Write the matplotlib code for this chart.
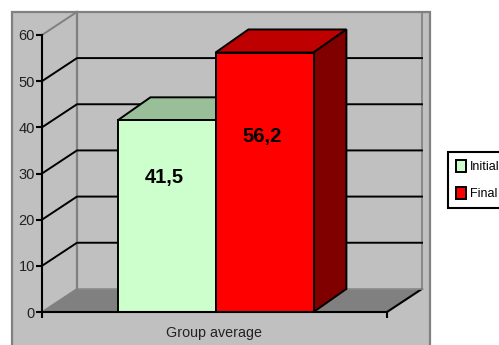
import matplotlib
matplotlib.use("Agg")
import matplotlib.pyplot as plt
from matplotlib.patches import Polygon, Rectangle

plt.rcParams['font.family'] = ['Liberation Sans', 'DejaVu Sans']

category = "Group average"
series_names = ["Initial", "Final"]
series_values = [41.5, 56.2]
value_labels = ["41,5", "56,2"]
y_ticks = [0, 10, 20, 30, 40, 50, 60]

front_colors = ["#CCFFCC", "#FF0000"]
top_colors = ["#99BF99", "#BF0000"]
side_colors = ["#669966", "#800000"]
GREY = "#C0C0C0"
DARK = "#808080"

# oblique offset of the back plane, in axis units
DX, DY = 0.1014, 5.0
BAR_W = 0.284
BAR_MID = 0.503
LABEL_FRAC = [0.70, 0.675]

fig = plt.figure(figsize=(4.99, 3.45), dpi=100, facecolor="white")

# outer chart area
fig.add_artist(Rectangle((11.5 / 499, -0.03), 418 / 499, 1.03 - 12 / 345,
                         transform=fig.transFigure, fc=GREY, ec=DARK, lw=1.6, zorder=-1))

ax = fig.add_axes([42 / 499, 33 / 345, 345 / 499, 277 / 345])
ax.set_xlim(0, 1)
ax.set_ylim(0, 60)
ax.patch.set_visible(False)
for name in ["top", "right"]:
    ax.spines[name].set_visible(False)
for name in ["left", "bottom"]:
    ax.spines[name].set_linewidth(1.5)
    ax.spines[name].set_zorder(8)

# floor
ax.add_patch(Polygon([(0, 0), (1, 0), (1 + DX, DY), (DX, DY)], closed=True,
                     fc=DARK, ec="none", clip_on=False, zorder=1))
ax.plot([1, 1 + DX], [0, DY], color="black", lw=1.5, clip_on=False, zorder=2)
ax.plot([0, DX], [0, DY], color=DARK, lw=1.2, clip_on=False, zorder=2)
ax.plot([DX, 1 + DX], [DY, DY], color="#8C8C8C", lw=1.2, clip_on=False, zorder=2)

# walls
ax.plot([DX, DX], [DY, 60 + DY], color=DARK, lw=1.6, clip_on=False, zorder=2)
ax.plot([1 + DX, 1 + DX], [DY, 60 + DY], color=DARK, lw=1.2, clip_on=False, zorder=2)
ax.plot([0, DX], [60, 60 + DY], color=DARK, lw=1.4, clip_on=False, zorder=2)

# gridlines run across the side wall and the back wall
for v in y_ticks[1:-1]:
    ax.plot([0, DX, 1 + DX], [v, v + DY, v + DY], color="black", lw=1.4,
            clip_on=False, zorder=2, solid_joinstyle="miter")

# bars with their top and side faces
lefts = [BAR_MID - BAR_W, BAR_MID]
for i, v in enumerate(series_values):
    x0 = lefts[i]
    x1 = x0 + BAR_W
    d = DX * 0.94
    z = 3 + i
    ax.add_patch(Polygon([(x0, v), (x1, v), (x1 + d, v + DY), (x0 + d, v + DY)],
                         closed=True, fc=top_colors[i], ec="black", lw=1.4,
                         clip_on=False, zorder=z))
    ax.add_patch(Polygon([(x1, 0), (x1 + d, DY), (x1 + d, v + DY), (x1, v)],
                         closed=True, fc=side_colors[i], ec="black", lw=1.4,
                         clip_on=False, zorder=z))
    ax.bar(x0, v, BAR_W, align="edge", color=front_colors[i], edgecolor="black",
           linewidth=1.4, label=series_names[i], zorder=z)
    ax.text(x0 + BAR_W / 2 - 0.006, v * LABEL_FRAC[i], value_labels[i], ha="center", va="center",
            fontsize=14.5, fontweight="bold", color="black", zorder=7)

ax.set_yticks(y_ticks)
ax.set_xticks([0, 1])
ax.set_xticklabels([])
ax.set_xticks([0.5], [category], minor=True)
ax.tick_params(axis="x", which="major", length=4, width=1.5)
ax.tick_params(axis="x", which="minor", length=0, pad=10, labelsize=10.3, labelcolor="#222222")
ax.tick_params(axis="y", length=4, width=1.5, pad=1, labelsize=10.5, labelcolor="#222222")

# legend box runs off the right edge of the figure
leg = ax.legend(loc="upper left", bbox_to_anchor=(448 / 499, 1 - 152 / 345),
                bbox_transform=fig.transFigure, fancybox=False, framealpha=1,
                edgecolor="black", fontsize=9, handlelength=0.8, handleheight=1.1,
                handletextpad=0.3, labelspacing=1.05, borderpad=0.65, borderaxespad=0)
leg.get_frame().set_linewidth(1.5)

fig.savefig("out.png", dpi=100)
